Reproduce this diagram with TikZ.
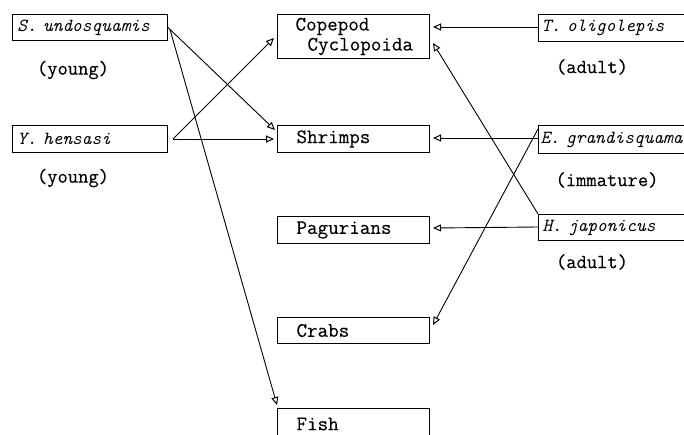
\documentclass[tikz,border=0pt]{standalone}
\usepackage{fontspec}
\setmonofont{Latin Modern Mono}[FakeBold=0.3]
\newfontfamily\spfont{Latin Modern Mono}
\usetikzlibrary{arrows.meta}
\begin{document}
\begin{tikzpicture}[x=1pt,y=-1pt,
  box/.style={draw, line width=1pt, anchor=north west, inner sep=0pt, align=left},
  mid/.style={box, minimum width=152pt, text width=152pt, font=\ttfamily\fontsize{20.5}{21}\selectfont},
  spbox/.style={box, font=\spfont\fontsize{18.5}{20}\selectfont\itshape},
  lab/.style={font=\ttfamily\fontsize{20}{22}\selectfont, inner sep=0pt},
  arr/.style={line width=0.9pt, -{Triangle[open, length=8pt, width=7pt, line width=1pt]}}]
\useasboundingbox (0,0) rectangle (684,434);
\clip (0,0) rectangle (684,434);
% left column
\node[spbox, minimum width=155pt, minimum height=26pt, text width=155pt] (S) at (12,14) {\hspace*{5pt}S. undosquamis};
\node[spbox, minimum width=155pt, minimum height=27pt, text width=155pt] (Y) at (12,125) {\hspace*{5pt}Y. hensasi};
\node[lab] (ly1) at (73,70) {(young)};
\node[lab] (ly2) at (73,178) {(young)};
% middle column
\node[mid, minimum height=44pt] (C) at (277,14) {\hspace*{18pt}Copepod\\[-1pt]\hspace*{30pt}Cyclopoida};
\node[mid, minimum height=27pt] (Sh) at (277,125) {\hspace*{19pt}Shrimps};
\node[mid, minimum height=27pt] (P) at (277,216) {\hspace*{19pt}Pagurians};
\node[mid, minimum height=26pt] (Cr) at (277,317) {\hspace*{19pt}Crabs};
\node[mid, minimum height=31pt] (F) at (277,408) {\hspace*{19pt}Fish};
% right column
\node[spbox, minimum width=170pt, minimum height=27pt, text width=170pt] (T) at (538,14) {\hspace*{3pt}T. oligolepis};
\node[spbox, minimum width=170pt, minimum height=28pt, text width=170pt] (E) at (538,125) {\hspace*{2pt}E. grandisquama};
\node[spbox, minimum width=170pt, minimum height=26pt, text width=170pt] (H) at (538,214) {\hspace*{4pt}H. japonicus};
\node[lab] (la1) at (592,67) {(adult)};
\node[lab] (li) at (607,180) {(immature)};
\node[lab] (la2) at (592,262) {(adult)};
% arrows
\draw[arr] (S.east) -- ([xshift=-2pt,yshift=-5pt]Sh.north west);
\draw[arr] ([xshift=2pt,yshift=-2pt]S.east) -- ([yshift=3pt]F.north west);
\draw[arr] ([xshift=5pt]Y.east) -- ([xshift=-3pt,yshift=-24pt]C.north west);
\draw[arr] ([xshift=5pt]Y.east) -- ([xshift=-3pt]Sh.west);
\draw[arr] ([yshift=-13pt]T.north west) -- ([xshift=3pt,yshift=-13pt]C.north east);
\draw[arr] (H.north west) -- ([xshift=3pt,yshift=-29pt]C.north east);
\draw[arr] ([yshift=-13pt]E.north west) -- ([xshift=3pt,yshift=-13pt]Sh.north east);
\draw[arr] ([yshift=-4pt]E.north west) -- ([xshift=3pt,yshift=-8pt]Cr.north east);
\draw[arr] ([yshift=-13pt]H.north west) -- ([xshift=3pt,yshift=-12pt]P.north east);
\end{tikzpicture}
\end{document}
